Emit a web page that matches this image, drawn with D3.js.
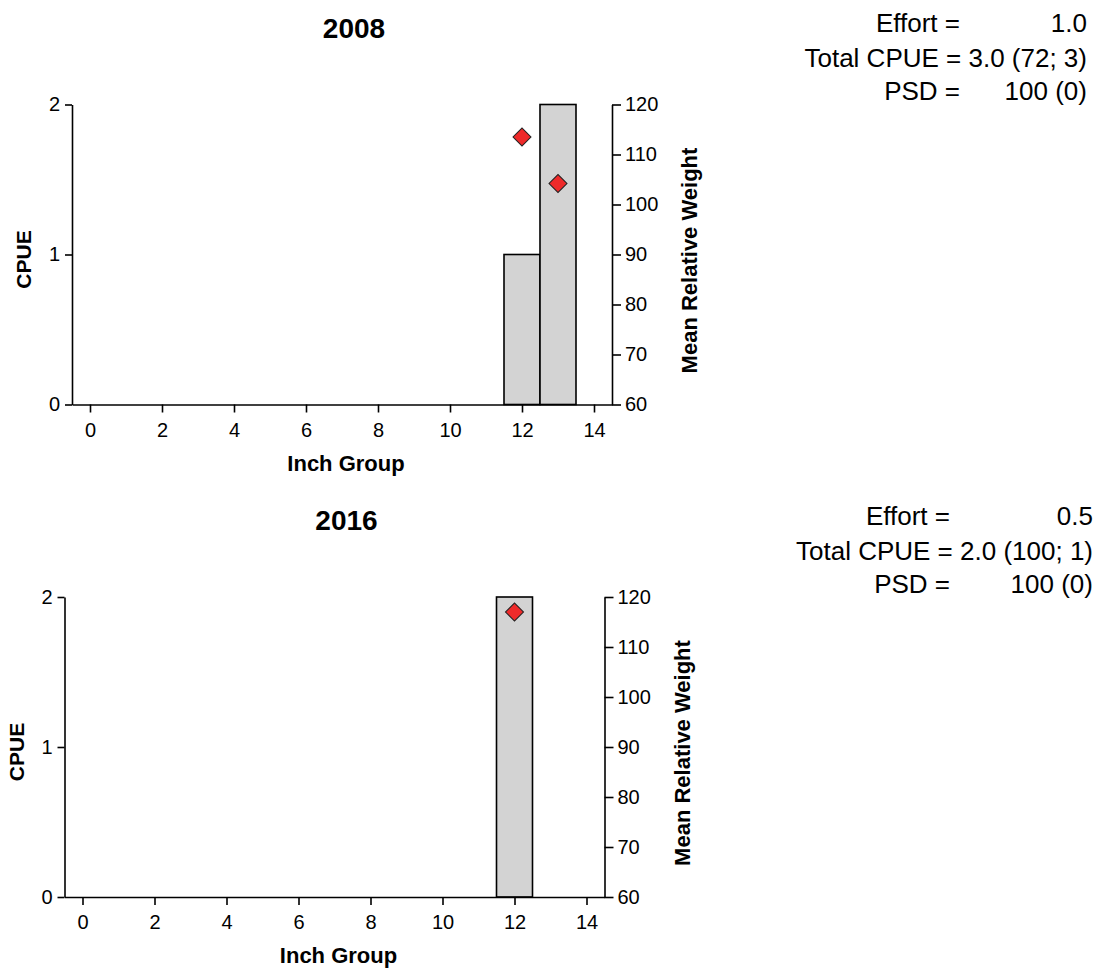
<!DOCTYPE html>
<html>
<head>
<meta charset="utf-8">
<script src="https://cdn.jsdelivr.net/npm/d3@7"></script>
<style>
  body { margin: 0; background: #fff; }
  svg text { font-family: Arial, "Liberation Sans", sans-serif; fill: #000; }
  .axis path, .axis line { stroke: #000; stroke-width: 1.6; }
  .axis text { font-size: 20px; }
  .lbl { font-size: 21px; font-weight: bold; }
  .lbl2 { font-size: 22px; font-weight: bold; }
  .ttl { font-size: 28px; font-weight: bold; }
  .stat { font-size: 26px; }
</style>
</head>
<body>
<svg id="chart" width="1099" height="969"></svg>
<script>
// data
var years = ['2008', '2016'];
var inch2008 = [12, 13];
var cpue2008 = [1, 2];
var wr2008 = [113.5, 104.2];
var inch2016 = [12];
var cpue2016 = [2];
var wr2016 = [117];
var effort = ['1.0', '0.5'];
var totalCpue = ['3.0 (72; 3)', '2.0 (100; 1)'];
var psd = ['100 (0)', '100 (0)'];
var inchTicks = [0, 2, 4, 6, 8, 10, 12, 14];
var cpueTicks = [0, 1, 2];
var wrTicks = [60, 70, 80, 90, 100, 110, 120];

var svg = d3.select('svg#chart');

drawPanel(0, inch2008, cpue2008, wr2008, 72, 104.5, 960, 1087);
drawPanel(1, inch2016, cpue2016, wr2016, 64.5, 597, 950, 1093);

function drawPanel(i, inch, cpue, wr, left, top, labX, valX) {
    var w = 540, h = 300;
    var g = svg.append('g').attr('transform', 'translate(' + left + ',' + top + ')');

    var x = d3.scaleLinear().domain([-0.5, 14.5]).range([0, w]);
    var y = d3.scaleLinear().domain([0, 2]).range([h, 0]);
    var y2 = d3.scaleLinear().domain([60, 120]).range([h, 0]);

    var bars = inch.map(function (d, k) { return { inch: d, cpue: cpue[k], wr: wr[k] }; });

    g.selectAll('rect.bar').data(bars)
        .enter()
        .append('rect')
        .attr('class', 'bar')
        .attr('x', d => x(d.inch - 0.5))
        .attr('y', d => y(d.cpue))
        .attr('width', d => x(d.inch + 0.5) - x(d.inch - 0.5))
        .attr('height', d => h - y(d.cpue))
        .style('fill', '#d3d3d3')
        .style('stroke', '#000')
        .style('stroke-width', 1.6);

    g.append('g').attr('class', 'axis')
        .attr('transform', 'translate(0,' + h + ')')
        .call(d3.axisBottom(x).tickValues(inchTicks).tickFormat(d3.format('d')).tickSize(8).tickSizeOuter(0).tickPadding(10));

    g.append('g').attr('class', 'axis')
        .call(d3.axisLeft(y).tickValues(cpueTicks).tickFormat(d3.format('d')).tickSize(7).tickSizeOuter(0).tickPadding(5));

    g.append('g').attr('class', 'axis')
        .attr('transform', 'translate(' + w + ',0)')
        .call(d3.axisRight(y2).tickValues(wrTicks).tickFormat(d3.format('d')).tickSize(9).tickSizeOuter(0).tickPadding(4));

    var diamond = d3.symbol().type(d3.symbolSquare).size(162);
    g.selectAll('path.pt').data(bars)
        .enter()
        .append('path')
        .attr('class', 'pt')
        .attr('d', diamond)
        .attr('transform', d => 'translate(' + x(d.inch) + ',' + y2(d.wr) + ') rotate(45)')
        .style('fill', '#ee2a2a')
        .style('stroke', '#222')
        .style('stroke-width', 1);

    // titles and axis labels
    g.append('text').attr('class', 'ttl')
        .attr('x', w / 2 + 12).attr('y', -67)
        .attr('text-anchor', 'middle')
        .text(years[i]);

    g.append('text').attr('class', 'lbl2')
        .attr('x', w / 2 + 4).attr('y', h + 66)
        .attr('text-anchor', 'middle')
        .text('Inch Group');

    g.append('text').attr('class', 'lbl')
        .attr('transform', 'translate(' + (-41) + ',' + (h / 2 + 5) + ') rotate(-90)')
        .attr('text-anchor', 'middle')
        .text('CPUE');

    g.append('text').attr('class', 'lbl2')
        .attr('transform', 'translate(' + (w + 85) + ',' + (h / 2 + 6) + ') rotate(-90)')
        .attr('text-anchor', 'middle')
        .text('Mean Relative Weight');

    // stats block on the right
    var base = top - 72.5;
    svg.append('text').attr('class', 'stat')
        .attr('x', labX).attr('y', base).attr('text-anchor', 'end').text('Effort =');
    svg.append('text').attr('class', 'stat')
        .attr('x', valX).attr('y', base).attr('text-anchor', 'end').text(effort[i]);
    svg.append('text').attr('class', 'stat')
        .attr('x', valX).attr('y', base + 35).attr('text-anchor', 'end').text('Total CPUE = ' + totalCpue[i]);
    svg.append('text').attr('class', 'stat')
        .attr('x', labX).attr('y', base + 68).attr('text-anchor', 'end').text('PSD =');
    svg.append('text').attr('class', 'stat')
        .attr('x', valX).attr('y', base + 68).attr('text-anchor', 'end').text(psd[i]);
}
</script>
</body>
</html>
